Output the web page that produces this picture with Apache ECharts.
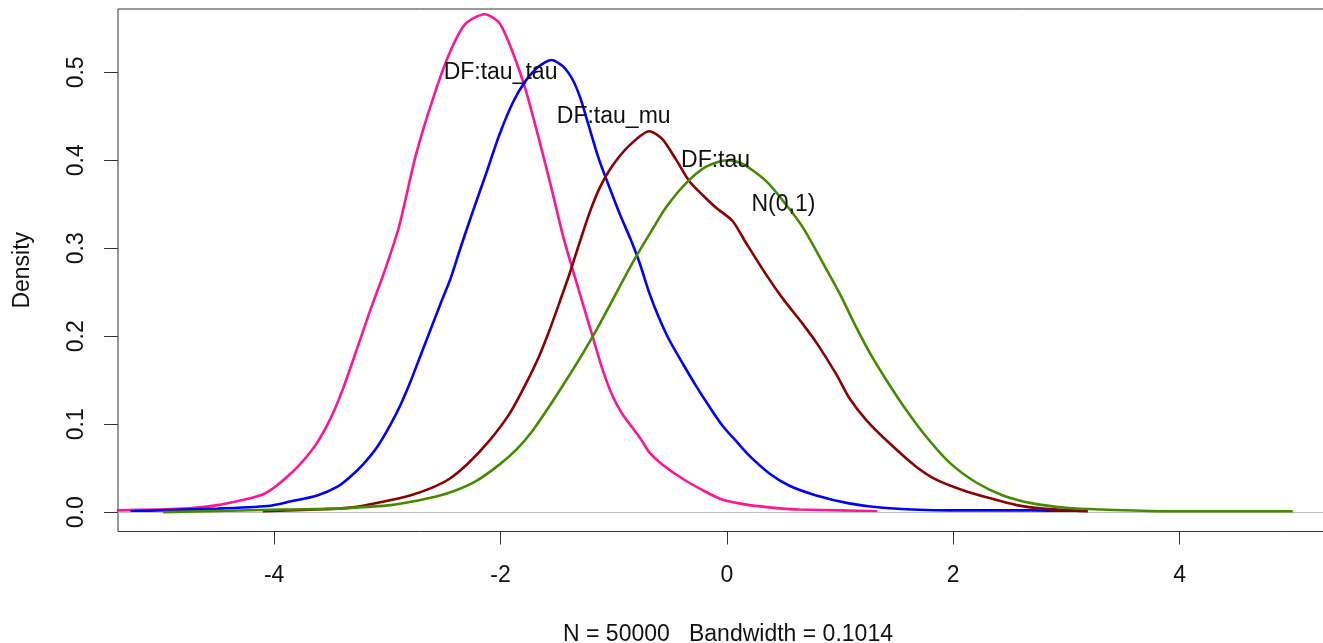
<!DOCTYPE html>
<html>
<head>
<meta charset="utf-8">
<script src="https://cdn.jsdelivr.net/npm/echarts@6/dist/echarts.min.js"></script>
<style>
  html, body { margin: 0; padding: 0; background: #fff; }
  #chart { width: 1323px; height: 643px; }
</style>
</head>
<body>
<div id="chart"></div>
<script>
// ---- data (x, density) ----
const seriesNames = ['DF:tau_tau', 'DF:tau_mu', 'DF:tau', 'N(0,1)'];

const tauTau = [[-5.39,0.002],[-4.80,0.004],[-4.50,0.008],[-4.27,0.014],[-4.10,0.020],[-4.00,0.028],[-3.86,0.043],[-3.74,0.059],[-3.62,0.079],[-3.50,0.107],[-3.39,0.141],[-3.27,0.185],[-3.15,0.230],[-3.03,0.272],[-2.90,0.323],[-2.75,0.405],[-2.60,0.469],[-2.45,0.522],[-2.31,0.555],[-2.14,0.566],[-2.01,0.556],[-1.89,0.522],[-1.78,0.481],[-1.66,0.424],[-1.54,0.363],[-1.45,0.315],[-1.363,0.276],[-1.275,0.238],[-1.187,0.200],[-1.098,0.162],[-1.010,0.132],[-0.921,0.111],[-0.84,0.097],[-0.76,0.083],[-0.685,0.068],[-0.568,0.054],[-0.391,0.038],[-0.214,0.025],[-0.037,0.014],[0.199,0.008],[0.493,0.004],[0.64,0.003],[1.0,0.002],[1.33,0.001]];

const tauMu = [[-5.27,0.001],[-4.50,0.004],[-4.06,0.007],[-3.86,0.012],[-3.62,0.019],[-3.44,0.029],[-3.33,0.040],[-3.21,0.055],[-3.09,0.074],[-2.97,0.100],[-2.88,0.123],[-2.80,0.147],[-2.71,0.177],[-2.62,0.207],[-2.53,0.237],[-2.44,0.266],[-2.36,0.298],[-2.25,0.340],[-2.13,0.384],[-2.01,0.429],[-1.89,0.466],[-1.78,0.490],[-1.66,0.507],[-1.55,0.514],[-1.45,0.507],[-1.36,0.491],[-1.29,0.469],[-1.22,0.439],[-1.13,0.401],[-1.04,0.370],[-0.95,0.340],[-0.85,0.310],[-0.77,0.283],[-0.685,0.249],[-0.60,0.221],[-0.51,0.196],[-0.39,0.169],[-0.27,0.143],[-0.155,0.120],[-0.037,0.098],[0.08,0.081],[0.20,0.064],[0.376,0.044],[0.553,0.030],[0.79,0.019],[1.08,0.010],[1.38,0.005],[1.97,0.002],[2.70,0.002],[3.09,0.001]];

const tau = [[-4.10,0.001],[-3.44,0.004],[-3.27,0.006],[-3.03,0.012],[-2.80,0.019],[-2.62,0.027],[-2.45,0.038],[-2.29,0.055],[-2.10,0.081],[-1.92,0.112],[-1.78,0.145],[-1.66,0.177],[-1.57,0.206],[-1.48,0.238],[-1.39,0.271],[-1.31,0.303],[-1.22,0.338],[-1.13,0.367],[-1.01,0.394],[-0.86,0.417],[-0.685,0.433],[-0.57,0.424],[-0.45,0.401],[-0.33,0.376],[-0.21,0.360],[-0.095,0.346],[0.05,0.331],[0.17,0.306],[0.347,0.270],[0.493,0.243],[0.67,0.214],[0.80,0.191],[0.97,0.156],[1.08,0.130],[1.23,0.105],[1.44,0.078],[1.67,0.052],[1.85,0.037],[2.085,0.025],[2.32,0.016],[2.56,0.008],[2.79,0.004],[3.19,0.001]];

const normal01 = [[-4.98,0.000],[-3.92,0.003],[-3.44,0.004],[-3.18,0.006],[-2.97,0.008],[-2.74,0.013],[-2.56,0.018],[-2.41,0.024],[-2.22,0.035],[-2.01,0.054],[-1.86,0.071],[-1.72,0.092],[-1.57,0.120],[-1.42,0.150],[-1.275,0.180],[-1.157,0.206],[-1.04,0.234],[-0.92,0.263],[-0.80,0.291],[-0.66,0.321],[-0.54,0.346],[-0.36,0.374],[-0.18,0.393],[0.0,0.400],[0.14,0.396],[0.35,0.376],[0.52,0.350],[0.67,0.324],[0.85,0.283],[0.995,0.249],[1.14,0.211],[1.29,0.175],[1.44,0.144],[1.58,0.117],[1.76,0.086],[1.97,0.056],[2.20,0.034],[2.44,0.019],[2.70,0.010],[3.0,0.005],[3.3,0.003],[3.88,0.001],[5.0,0.001]];

const xTicks = [-4, -2, 0, 2, 4];
const yTicks = [0, 0.1, 0.2, 0.3, 0.4, 0.5];

const labelTexts = ['DF:tau_tau', 'DF:tau_mu', 'DF:tau', 'N(0,1)'];
const labelX = [-2.0, -1.0, -0.1, 0.5];
const labelY = [0.5, 0.45, 0.4, 0.35];

const xLabelText = 'N = 50000   Bandwidth = 0.1014';
const yLabelText = 'Density';

// ---- styling ----
const colors = ['#ff1493', '#0000ff', '#8b0000', '#458b00'];
const FONT = '"Liberation Sans", Arial, sans-serif';
const TXT = '#111111';
const FS = 23;

const curves = [tauTau, tauMu, tau, normal01];

const lineSeries = curves.map((d, i) => ({
  name: seriesNames[i],
  type: 'line',
  data: d,
  showSymbol: false,
  symbol: 'none',
  smooth: 0.25,
  clip: true,
  lineStyle: { color: colors[i], width: 2.6 },
  z: 3 + i,
  silent: true
}));

// zero reference line
lineSeries[0].markLine = {
  silent: true,
  symbol: ['none', 'none'],
  label: { show: false },
  lineStyle: { color: '#bebebe', width: 1, type: 'solid' },
  data: [{ yAxis: 0 }]
};

const labelSeries = {
  type: 'scatter',
  symbolSize: 0,
  itemStyle: { color: TXT, opacity: 1 },
  data: labelTexts.map((t, i) => ({ value: [labelX[i], labelY[i]], name: t })),
  label: {
    show: true,
    position: 'inside',
    formatter: p => p.name,
    color: TXT,
    opacity: 1,
    fontSize: FS,
    fontFamily: FONT
  },
  z: 10,
  silent: true
};

const chart = echarts.init(document.getElementById('chart'), null, { renderer: 'canvas' });
chart.setOption({
  animation: false,
  backgroundColor: '#ffffff',
  grid: {
    left: 118, right: -15, top: 9, bottom: 111.5,
    containLabel: false,
    outerBoundsMode: 'none',
    show: true, borderColor: '#333', borderWidth: 1, backgroundColor: 'transparent'
  },
  xAxis: {
    type: 'value',
    min: -5.38, max: 5.40,
    name: xLabelText,
    nameLocation: 'middle',
    nameGap: 92,
    nameTextStyle: { color: TXT, fontSize: FS, fontFamily: FONT },
    axisLine: { show: false, onZero: false },
    axisTick: { show: true, customValues: xTicks, length: 13, lineStyle: { color: '#333', width: 1 } },
    axisLabel: { show: true, customValues: xTicks, margin: 33, color: TXT, fontSize: FS, fontFamily: FONT },
    splitLine: { show: false }
  },
  yAxis: {
    type: 'value',
    min: -0.022, max: 0.572,
    name: yLabelText,
    nameLocation: 'middle',
    nameRotate: 90,
    nameGap: 84,
    nameTextStyle: { color: TXT, fontSize: FS, fontFamily: FONT },
    axisLine: { show: false, onZero: false },
    axisTick: { show: true, customValues: yTicks, length: 14, lineStyle: { color: '#333', width: 1 } },
    axisLabel: { show: true, customValues: yTicks, rotate: 90, margin: 30, color: TXT, fontSize: FS, fontFamily: FONT,
      formatter: v => v.toFixed(1) },
    splitLine: { show: false }
  },
  series: [...lineSeries, labelSeries]
});
</script>
</body>
</html>
